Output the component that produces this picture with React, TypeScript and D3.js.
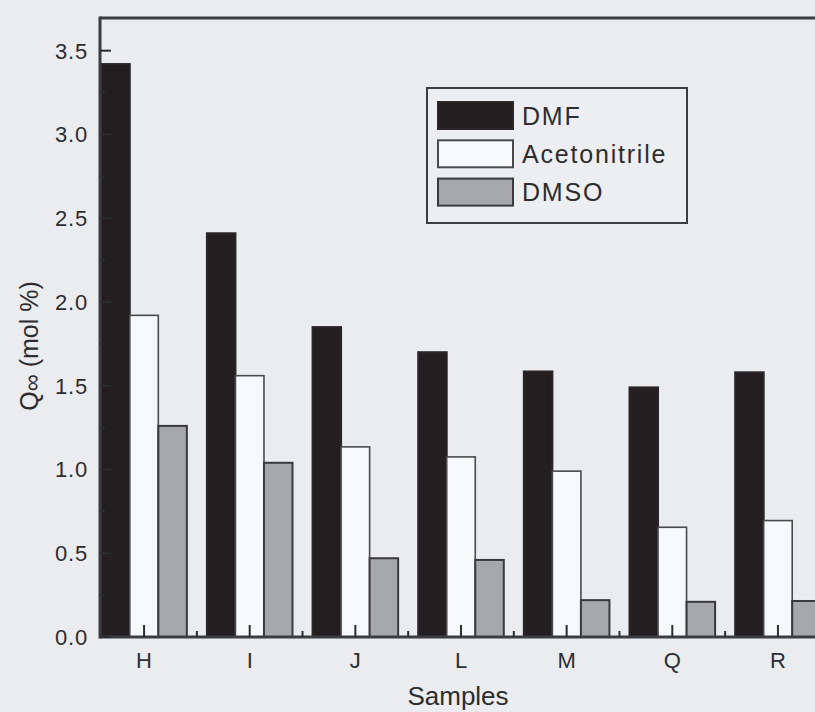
import React from "react";
import * as d3 from "d3";

// Sample groups and solvent series (Q∞ in mol %)
const samples = ["H", "I", "J", "L", "M", "Q", "R"];
const solvents = ["DMF", "Acetonitrile", "DMSO"];
const dmf = [3.42, 2.41, 1.85, 1.7, 1.585, 1.49, 1.58];
const acetonitrile = [1.92, 1.56, 1.135, 1.075, 0.99, 0.655, 0.695];
const dmso = [1.26, 1.04, 0.47, 0.46, 0.22, 0.21, 0.215];
const yTicks = [0, 0.5, 1.0, 1.5, 2.0, 2.5, 3.0, 3.5];

const seriesValues = [dmf, acetonitrile, dmso];
const fills = ["#231f21", "#f7f8f9", "#a7a8aa"];
const strokes = ["#2a2628", "#4a4a4c", "#3a3a3c"];

const W = 815;
const H = 712;
const left = 100;
const right = 822;
const top = 18;
const bottom = 637;
const font = "'Liberation Sans', Arial, Helvetica, sans-serif";
const ink = "#2c2d2f";

export default function App() {
  const x = d3.scaleLinear().domain([-0.417, 6.417]).range([left, right]);
  const y = d3.scaleLinear().domain([0, 3.695]).range([bottom, top]);
  const barW = 0.27; // bar width in category units
  const minorY = d3.range(0.25, 3.7, 0.5);
  const minorX = d3.range(-0.5, 7, 1).filter((v) => v > -0.417 && v < 6.417);

  return (
    <svg
      width={W}
      height={H}
      style={{ position: "absolute", left: 0, top: 0, display: "block" }}
      fontFamily={font}
    >
      <rect x={0} y={0} width={W} height={H} fill="#eaecef" />

      {/* bars */}
      {samples.map((s, i) => (
        <g key={s}>
          {seriesValues.map((vals, k) => {
            const x0 = x(i - 1.5 * barW + k * barW);
            const x1 = x(i - 1.5 * barW + (k + 1) * barW);
            return (
              <rect
                key={k}
                x={x0}
                y={y(vals[i])}
                width={x1 - x0}
                height={y(0) - y(vals[i])}
                fill={fills[k]}
                stroke={strokes[k]}
                strokeWidth={k === 1 ? 1.6 : 2}
              />
            );
          })}
        </g>
      ))}

      {/* frame */}
      <line x1={left} x2={W + 20} y1={top} y2={top} stroke="#3c3d40" strokeWidth={3} />
      <line x1={left} x2={left} y1={top - 1.5} y2={bottom + 1.5} stroke="#3c3d40" strokeWidth={3} />
      <line x1={left} x2={W + 20} y1={bottom} y2={bottom} stroke="#3c3d40" strokeWidth={3} />

      {/* y ticks */}
      {yTicks.map((t) => (
        <g key={t}>
          <line x1={left} x2={left + 11} y1={y(t)} y2={y(t)} stroke={ink} strokeWidth={2} />
          <text
            x={88}
            y={y(t)}
            dy="0.36em"
            textAnchor="end"
            fontSize={22}
            letterSpacing={0.8}
            fill={ink}
          >
            {d3.format(".1f")(t)}
          </text>
        </g>
      ))}
      {minorY.map((t) => (
        <line key={t} x1={left} x2={left + 5} y1={y(t)} y2={y(t)} stroke={ink} strokeWidth={2} />
      ))}

      {/* x ticks */}
      {samples.map((s, i) => (
        <g key={s}>
          <line x1={x(i)} x2={x(i)} y1={bottom} y2={bottom - 12} stroke={ink} strokeWidth={2} />
          <text x={x(i)} y={668} textAnchor="middle" fontSize={22} fill={ink}>
            {s}
          </text>
        </g>
      ))}
      {minorX.map((t) => (
        <line key={t} x1={x(t)} x2={x(t)} y1={bottom} y2={bottom - 6} stroke={ink} strokeWidth={2} />
      ))}

      {/* axis titles */}
      <text x={458} y={705} textAnchor="middle" fontSize={26} fill={ink}>
        Samples
      </text>
      <text
        transform={`translate(38,${346}) rotate(-90)`}
        textAnchor="middle"
        fontSize={25}
        fill={ink}
      >
        Q
        <tspan fontSize={24} dy={2}>∞</tspan>
        <tspan dy={-2}> (mol %)</tspan>
      </text>

      {/* legend */}
      <rect x={427} y={88} width={260} height={135} fill="#eceef1" stroke="#3c3d40" strokeWidth={2} />
      {solvents.map((name, k) => (
        <g key={name} transform={`translate(0,${k * 38.3})`}>
          <rect
            x={438}
            y={102}
            width={75}
            height={27}
            fill={fills[k]}
            stroke={strokes[k]}
            strokeWidth={2}
          />
          <text x={522} y={115.5} dy="0.36em" fontSize={25} letterSpacing={1.8} fill={ink}>
            {name}
          </text>
        </g>
      ))}
    </svg>
  );
}
